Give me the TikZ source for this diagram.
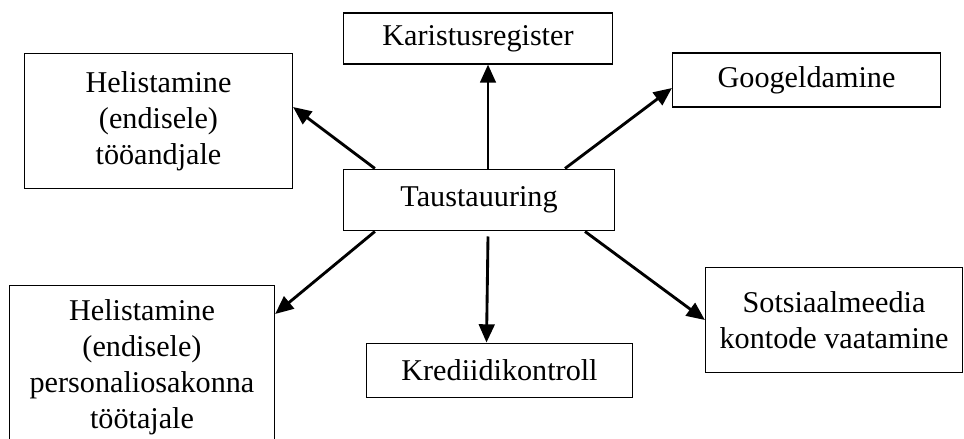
\documentclass[tikz,border=0pt]{standalone}
\usepackage{fontspec}
\setmainfont{Liberation Serif}
\usetikzlibrary{calc,arrows.meta}

\begin{document}
\begin{tikzpicture}[x=0.0135cm,y=-0.0135cm,
  box/.style={draw,line width=0.5pt,inner sep=0pt,align=center,
    font=\fontsize{11.6}{13.8}\selectfont},
  arr/.style={-{Triangle[length=7pt,width=6pt]},line width=1.1pt}]

\useasboundingbox (0,0) rectangle (964,439);

\node[box,minimum width=104.1pt,minimum height=23.7pt] (taust) at (479,200) {Taustauuring};

\node[box,minimum width=103.3pt,minimum height=19.5pt] (kar) at (478,38.5) {Karistusregister};

\node[box,minimum width=102.9pt,minimum height=52pt] (hel1) at (158.5,121) {Helistamine\\(endisele)\\tööandjale};

\node[box,minimum width=102.9pt,minimum height=20.7pt] (goo) at (806.5,80) {Googeldamine};

\node[box,minimum width=101.8pt,minimum height=62.8pt,anchor=north] (hel2) at (142,285) {Helistamine\\(endisele)\\personaliosakonna\\töötajale};

\node[box,minimum width=102.2pt,minimum height=21pt] (kred) at (499.5,370.5) {Krediidikontroll};

\node[box,minimum width=98.7pt,minimum height=40.6pt] (soz) at (834,320) {Sotsiaalmeedia\\kontode vaatamine};


\draw[arr] ($(taust.north west)+(32,0)$) -- ($(hel1.east)+(0,-14)$);
\draw[arr] ($(taust.north)+(9,0)$) -- ($(kar.south)+(10,0)$);
\draw[arr] ($(taust.north)+(86,0)$) -- ($(goo.west)+(0,8)$);
\draw[arr] ($(taust.south west)+(32,0)$) -- ($(hel2.north east)+(0,29)$);
\draw[arr] ($(taust.south)+(9,5)$) -- ($(kred.north)+(-13,0)$);
\draw[arr] ($(taust.south)+(106,0)$) -- (soz.west);


\end{tikzpicture}
\end{document}
